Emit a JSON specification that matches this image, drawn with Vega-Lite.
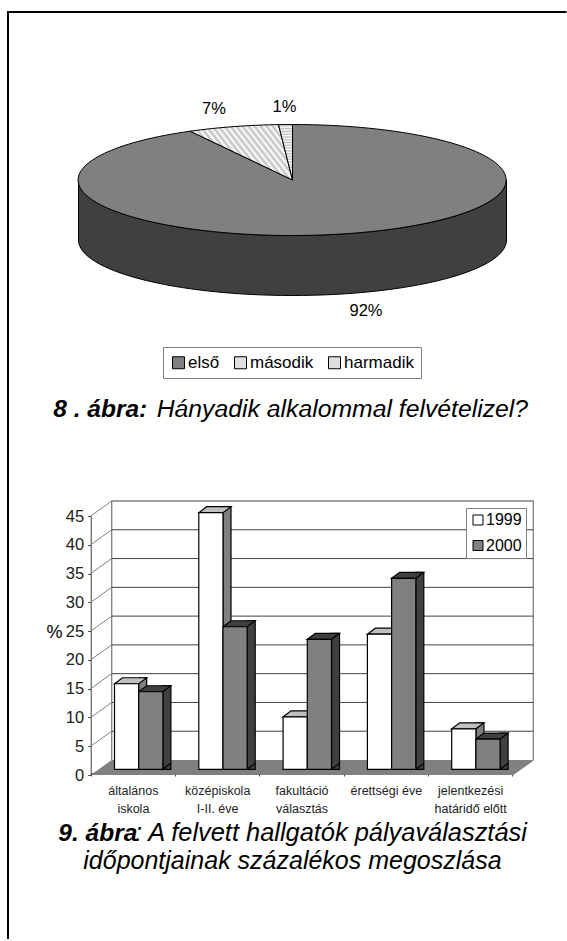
{
"$schema":"https://vega.github.io/schema/vega-lite/v6.json",
"width":567,"height":941,"padding":0,
"autosize":{"type":"fit","contains":"padding"},
"background":"white",
"config":{"view":{"stroke":null},"font":"Liberation Sans","text":{"font":"Liberation Sans"}},
"datasets":{
"kor":[{"kategoria":"első","szazalek":92,"cimke":"92%"},{"kategoria":"második","szazalek":7,"cimke":"7%"},{"kategoria":"harmadik","szazalek":1,"cimke":"1%"}],
"racs":[{"ertek":0},{"ertek":5},{"ertek":10},{"ertek":15},{"ertek":20},{"ertek":25},{"ertek":30},{"ertek":35},{"ertek":40},{"ertek":45}],
"oszlopok":[
{"kategoria":"általános\niskola","ev":"1999","ertek":15},
{"kategoria":"általános\niskola","ev":"2000","ertek":13.6},
{"kategoria":"középiskola\nI-II. éve","ev":"1999","ertek":45},
{"kategoria":"középiskola\nI-II. éve","ev":"2000","ertek":25},
{"kategoria":"fakultáció\nválasztás","ev":"1999","ertek":9.2},
{"kategoria":"fakultáció\nválasztás","ev":"2000","ertek":22.8},
{"kategoria":"érettségi éve","ev":"1999","ertek":23.7},
{"kategoria":"érettségi éve","ev":"2000","ertek":33.5},
{"kategoria":"jelentkezési\nhatáridő előtt","ev":"1999","ertek":7.1},
{"kategoria":"jelentkezési\nhatáridő előtt","ev":"2000","ertek":5.3}]
},
"resolve":{"scale":{"x":"independent","y":"independent","fill":"independent","xOffset":"independent"}},
"layer":[
{
"encoding":{
"x":{"datum":0,"type":"quantitative","scale":{"domain":[-1,1],"range":[78.5,506.5]},"axis":null},
"y":{"datum":0,"type":"quantitative","scale":{"domain":[-1,1],"range":[235.5,124.5]},"axis":null}},
"layer":[
{"data":{"name":"kor"},"transform":[{"filter":"datum.kategoria=='első'"}],
"mark":{"type":"point","size":4,"opacity":1,"filled":false,"fill":null,"stroke":"#000","strokeWidth":2,"shape":"M-284.5,759 L-284.5,-168 L274,-168"}},
{"data":{"name":"kor"},"transform":[{"filter":"datum.kategoria=='első'"}],
"mark":{"type":"point","size":4,"opacity":1,"filled":true,"fill":"#404040","stroke":"#000","strokeWidth":1,"shape":"M-214,0 L-214,60 A214,55.5 0 0 0 214,60 L214,0 A214,55.5 0 0 1 -214,0 Z"}},
{"data":{"name":"kor"},"transform":[{"filter":"datum.kategoria=='első'"}],
"mark":{"type":"point","size":4,"opacity":1,"filled":true,"fill":"#808080","stroke":"#000","strokeWidth":1,"shape":"M0,0 L0,-55.5 A214,55.5 0 1 1 -102.3,-48.8 Z"}},
{"data":{"name":"kor"},"transform":[{"filter":"datum.kategoria=='második'"}],
"mark":{"type":"point","size":4,"opacity":1,"filled":true,"stroke":"#000","strokeWidth":1,"shape":"M0,0 L-102.3,-48.8 A214,55.5 0 0 1 -14,-55.4 Z",
"fill":{"gradient":"linear","x1":0,"y1":0.7,"x2":1,"y2":0.28,"stops":[{"offset":0,"color":"#fff"},{"offset":0.025,"color":"#bfbfbf"},{"offset":0.05,"color":"#fff"},{"offset":0.075,"color":"#bfbfbf"},{"offset":0.1,"color":"#fff"},{"offset":0.125,"color":"#bfbfbf"},{"offset":0.15,"color":"#fff"},{"offset":0.175,"color":"#bfbfbf"},{"offset":0.2,"color":"#fff"},{"offset":0.225,"color":"#bfbfbf"},{"offset":0.25,"color":"#fff"},{"offset":0.275,"color":"#bfbfbf"},{"offset":0.3,"color":"#fff"},{"offset":0.325,"color":"#bfbfbf"},{"offset":0.35,"color":"#fff"},{"offset":0.375,"color":"#bfbfbf"},{"offset":0.4,"color":"#fff"},{"offset":0.425,"color":"#bfbfbf"},{"offset":0.45,"color":"#fff"},{"offset":0.475,"color":"#bfbfbf"},{"offset":0.5,"color":"#fff"},{"offset":0.525,"color":"#bfbfbf"},{"offset":0.55,"color":"#fff"},{"offset":0.575,"color":"#bfbfbf"},{"offset":0.6,"color":"#fff"},{"offset":0.625,"color":"#bfbfbf"},{"offset":0.65,"color":"#fff"},{"offset":0.675,"color":"#bfbfbf"},{"offset":0.7,"color":"#fff"},{"offset":0.725,"color":"#bfbfbf"},{"offset":0.75,"color":"#fff"},{"offset":0.775,"color":"#bfbfbf"},{"offset":0.8,"color":"#fff"},{"offset":0.825,"color":"#bfbfbf"},{"offset":0.85,"color":"#fff"},{"offset":0.875,"color":"#bfbfbf"},{"offset":0.9,"color":"#fff"},{"offset":0.925,"color":"#bfbfbf"},{"offset":0.95,"color":"#fff"},{"offset":0.975,"color":"#bfbfbf"},{"offset":1,"color":"#fff"}]}}},
{"data":{"name":"kor"},"transform":[{"filter":"datum.kategoria=='harmadik'"}],
"mark":{"type":"point","size":4,"opacity":1,"filled":true,"stroke":"#000","strokeWidth":1,"shape":"M0,0 L-14,-55.4 A214,55.5 0 0 1 0,-55.5 Z",
"fill":{"gradient":"linear","x1":0,"y1":0,"x2":0,"y2":1,"stops":[{"offset":0,"color":"#fff"},{"offset":0.025,"color":"#bfbfbf"},{"offset":0.05,"color":"#fff"},{"offset":0.075,"color":"#bfbfbf"},{"offset":0.1,"color":"#fff"},{"offset":0.125,"color":"#bfbfbf"},{"offset":0.15,"color":"#fff"},{"offset":0.175,"color":"#bfbfbf"},{"offset":0.2,"color":"#fff"},{"offset":0.225,"color":"#bfbfbf"},{"offset":0.25,"color":"#fff"},{"offset":0.275,"color":"#bfbfbf"},{"offset":0.3,"color":"#fff"},{"offset":0.325,"color":"#bfbfbf"},{"offset":0.35,"color":"#fff"},{"offset":0.375,"color":"#bfbfbf"},{"offset":0.4,"color":"#fff"},{"offset":0.425,"color":"#bfbfbf"},{"offset":0.45,"color":"#fff"},{"offset":0.475,"color":"#bfbfbf"},{"offset":0.5,"color":"#fff"},{"offset":0.525,"color":"#bfbfbf"},{"offset":0.55,"color":"#fff"},{"offset":0.575,"color":"#bfbfbf"},{"offset":0.6,"color":"#fff"},{"offset":0.625,"color":"#bfbfbf"},{"offset":0.65,"color":"#fff"},{"offset":0.675,"color":"#bfbfbf"},{"offset":0.7,"color":"#fff"},{"offset":0.725,"color":"#bfbfbf"},{"offset":0.75,"color":"#fff"},{"offset":0.775,"color":"#bfbfbf"},{"offset":0.8,"color":"#fff"},{"offset":0.825,"color":"#bfbfbf"},{"offset":0.85,"color":"#fff"},{"offset":0.875,"color":"#bfbfbf"},{"offset":0.9,"color":"#fff"},{"offset":0.925,"color":"#bfbfbf"},{"offset":0.95,"color":"#fff"},{"offset":0.975,"color":"#bfbfbf"},{"offset":1,"color":"#fff"}]}}},
{"data":{"name":"kor"},
"mark":{"type":"point","size":4,"opacity":1,"filled":true,"strokeWidth":0,"shape":"M0,0 L0,0"},
"encoding":{
"fill":{"field":"kategoria","type":"nominal","title":null,
"scale":{"domain":["első","második","harmadik"],"range":["#808080","#dfdfdf","#dfdfdf"]},
"legend":{"orient":"none","legendX":163,"legendY":347,"direction":"horizontal","columns":3,"symbolType":"square","symbolSize":144,"symbolStrokeColor":"#000","symbolStrokeWidth":1,"labelFontSize":17,"labelFont":"Liberation Sans","labelColor":"#000","labelOffset":1,"columnPadding":12,"padding":7,"strokeColor":"#808080","fillColor":"#fff","gridAlign":"each","encode":{"symbols":{"update":{"stroke":{"value":"#000"},"strokeWidth":{"value":1},"opacity":{"value":1},
"fill":{"signal":"datum.value=='első' ? '#808080' : datum.value=='második' ? {gradient:'linear',x1:0,y1:0,x2:1,y2:1,stops:[{offset:0,color:'#fff'},{offset:0.125,color:'#aaa'},{offset:0.25,color:'#fff'},{offset:0.375,color:'#aaa'},{offset:0.5,color:'#fff'},{offset:0.625,color:'#aaa'},{offset:0.75,color:'#fff'},{offset:0.875,color:'#aaa'},{offset:1,color:'#fff'}]} : {gradient:'linear',x1:0,y1:0,x2:0,y2:1,stops:[{offset:0,color:'#fff'},{offset:0.125,color:'#aaa'},{offset:0.25,color:'#fff'},{offset:0.375,color:'#aaa'},{offset:0.5,color:'#fff'},{offset:0.625,color:'#aaa'},{offset:0.75,color:'#fff'},{offset:0.875,color:'#aaa'},{offset:1,color:'#fff'}]}"}}}}}}
}},
{"data":{"name":"kor"},"transform":[{"filter":"datum.kategoria=='második'"}],"mark":{"type":"text","fontSize":16.5,"color":"#000","dx":-78.5,"dy":-71},"encoding":{"text":{"field":"cimke"}}},
{"data":{"name":"kor"},"transform":[{"filter":"datum.kategoria=='harmadik'"}],"mark":{"type":"text","fontSize":16.5,"color":"#000","dx":-8,"dy":-73},"encoding":{"text":{"field":"cimke"}}},
{"data":{"name":"kor"},"transform":[{"filter":"datum.kategoria=='első'"}],"mark":{"type":"text","fontSize":16.5,"color":"#000","dx":73.5,"dy":130.5},"encoding":{"text":{"field":"cimke"}}},
{"data":{"values":[{"felirat":"8 . ábra:"}]},"mark":{"type":"text","font":"Liberation Sans","fontSize":24.5,"fontWeight":"bold","fontStyle":"italic","color":"#000","align":"left","baseline":"alphabetic","dx":-239.2,"dy":237},"encoding":{"text":{"field":"felirat"}}},
{"data":{"values":[{"felirat":"Hányadik alkalommal felvételizel?"}]},"mark":{"type":"text","font":"Liberation Sans","fontSize":24.75,"fontStyle":"italic","color":"#000","align":"left","baseline":"alphabetic","dx":-135.8,"dy":237},"encoding":{"text":{"field":"felirat"}}}
]},
{
"encoding":{
"x":{"field":"kategoria","type":"nominal","sort":null,"title":null,"scale":{"domain":["általános\niskola","középiskola\nI-II. éve","fakultáció\nválasztás","érettségi éve","jelentkezési\nhatáridő előtt"],"range":[90.7,512.3],"paddingInner":0,"paddingOuter":0},
"axis":{"orient":"bottom","offset":-166,"tickBand":"extent","labelAngle":0,"labelAlign":"center","labelBaseline":"top","labelFontSize":12.5,"labelFont":"Liberation Sans","labelColor":"#222","labelPadding":8.5,"labelLineHeight":17.5,"labelLimit":200,"labelOverlap":false,"tickSize":3,"tickColor":"#404040","domainColor":"#404040","labelExpr":"split(datum.label,'\\n')","grid":false}},
"y":{"field":"ertek","type":"quantitative","title":"%","scale":{"domain":[0,45],"range":[775,516]},
"axis":{"orient":"left","offset":-90.7,"values":[0,5,10,15,20,25,30,35,40,45],"tickSize":3,"tickColor":"#404040","domainColor":"#404040","labelFontSize":16.5,"labelFont":"Liberation Sans","labelColor":"#222","labelPadding":4,"grid":false,"titleAngle":0,"titleAlign":"center","titleBaseline":"alphabetic","titleX":-36.7,"titleY":637,"titleFontSize":18,"titleFont":"Liberation Sans","titleFontWeight":"normal","titleColor":"#000"}}},
"layer":[
{"data":{"values":[{"ertek":0}]},"mark":{"type":"point","size":4,"opacity":1,"filled":true,"fill":"#808080","strokeWidth":0,"shape":"M0,0 L21,-15 L442.6,-15 L421.6,0 Z"},"encoding":{"x":{"datum":"általános\niskola","bandPosition":0}}},
{"data":{"values":[{"ertek":0}]},"mark":{"type":"point","size":4,"opacity":1,"filled":false,"fill":null,"stroke":"#808080","strokeWidth":1.3,"shape":"M21,-15 L21,-274 L442.6,-274 L442.6,-15 L421.6,0"},"encoding":{"x":{"datum":"általános\niskola","bandPosition":0}}},
{"data":{"name":"racs"},"transform":[{"filter":"datum.ertek>0 && datum.ertek<45"}],"mark":{"type":"point","size":4,"opacity":1,"filled":false,"fill":null,"stroke":"#404040","strokeWidth":1,"shape":"M21,-15 L442.6,-15"},"encoding":{"x":{"datum":"általános\niskola","bandPosition":0}}},
{"data":{"name":"racs"},"transform":[{"filter":"datum.ertek>0"}],"mark":{"type":"point","size":4,"opacity":1,"filled":false,"fill":null,"stroke":"#808080","strokeWidth":1,"shape":"M0,0 L21,-15"},"encoding":{"x":{"datum":"általános\niskola","bandPosition":0}}},
{"data":{"values":[{"ertek":0,"felirat":"9. ábra"}]},"mark":{"type":"text","font":"Liberation Sans","fontSize":24.5,"fontWeight":"bold","fontStyle":"italic","color":"#000","align":"left","baseline":"alphabetic","dx":-32.4,"dy":66},"encoding":{"x":{"datum":"általános\niskola","bandPosition":0},"text":{"field":"felirat"}}},
{"data":{"values":[{"ertek":0,"felirat":": A felvett hallgatók pályaválasztási"}]},"mark":{"type":"text","font":"Liberation Sans","fontSize":25.4,"fontStyle":"italic","color":"#000","align":"left","baseline":"alphabetic","dx":44.3,"dy":66},"encoding":{"x":{"datum":"általános\niskola","bandPosition":0},"text":{"field":"felirat"}}},
{"data":{"values":[{"ertek":0,"felirat":"időpontjainak százalékos megoszlása"}]},"mark":{"type":"text","font":"Liberation Sans","fontSize":25,"fontStyle":"italic","color":"#000","align":"left","baseline":"alphabetic","dx":-7.4,"dy":94},"encoding":{"x":{"datum":"általános\niskola","bandPosition":0},"text":{"field":"felirat"}}}
]},
{
"data":{"name":"oszlopok"},
"mark":{"type":"bar","stroke":"#000","strokeWidth":1.2,"yOffset":-6,"y2Offset":-5.4},
"encoding":{
"x":{"field":"kategoria","type":"nominal","sort":null,"scale":{"domain":["általános\niskola","középiskola\nI-II. éve","fakultáció\nválasztás","érettségi éve","jelentkezési\nhatáridő előtt"],"range":[96.5,518],"paddingInner":0,"paddingOuter":0},"axis":null},
"xOffset":{"field":"ev","type":"nominal","scale":{"domain":["1999","2000"],"range":[42.2,74.4],"paddingInner":0.669,"paddingOuter":0}},
"y":{"field":"ertek","type":"quantitative","stack":null,"scale":{"domain":[0,45],"range":[769.3,512.7]},"axis":null},
"fill":{"condition":{"test":"datum.ev=='1999'","value":"#808080"},"value":"#404040"}}
},
{
"data":{"name":"oszlopok"},
"encoding":{
"x":{"field":"kategoria","type":"nominal","sort":null,"scale":{"domain":["általános\niskola","középiskola\nI-II. éve","fakultáció\nválasztás","érettségi éve","jelentkezési\nhatáridő előtt"],"range":[96.5,518],"paddingInner":0,"paddingOuter":0},"axis":null},
"xOffset":{"field":"ev","type":"nominal","scale":{"domain":["1999","2000"],"range":[18,66.4],"paddingInner":0,"paddingOuter":0}},
"y":{"field":"ertek","type":"quantitative","stack":null,"scale":{"domain":[0,45],"range":[769.3,512.7]},"axis":null}},
"layer":[
{"mark":{"type":"point","size":4,"opacity":1,"filled":true,"stroke":"#000","strokeWidth":1.2,"shape":"M12.1,-6 L12.1,0 L20.1,-6"},"encoding":{"y":{"datum":0},"fill":{"condition":{"test":"datum.ev=='1999'","value":"#808080"},"value":"#404040"}}},
{"mark":{"type":"point","size":4,"opacity":1,"filled":true,"stroke":"#000","strokeWidth":1.2,"shape":"M-12.1,0 L-4.1,-6 L20.1,-6 L12.1,0 Z"},"encoding":{"fill":{"condition":{"test":"datum.ev=='1999'","value":"#c0c0c0"},"value":"#404040"}}},
{"mark":{"type":"bar","stroke":"#000","strokeWidth":1.2},"encoding":{"fill":{"field":"ev","type":"nominal","title":null,"scale":{"domain":["1999","2000"],"range":["#ffffff","#808080"]},
"legend":{"orient":"none","legendX":466,"legendY":508,"direction":"vertical","symbolType":"square","symbolSize":100,"symbolStrokeColor":"#000","symbolStrokeWidth":1,"labelFontSize":16,"labelFont":"Liberation Sans","labelColor":"#000","labelOffset":0,"rowPadding":9.5,"padding":4,"strokeColor":"#808080","fillColor":"#fff"}}}}
]}
]}
